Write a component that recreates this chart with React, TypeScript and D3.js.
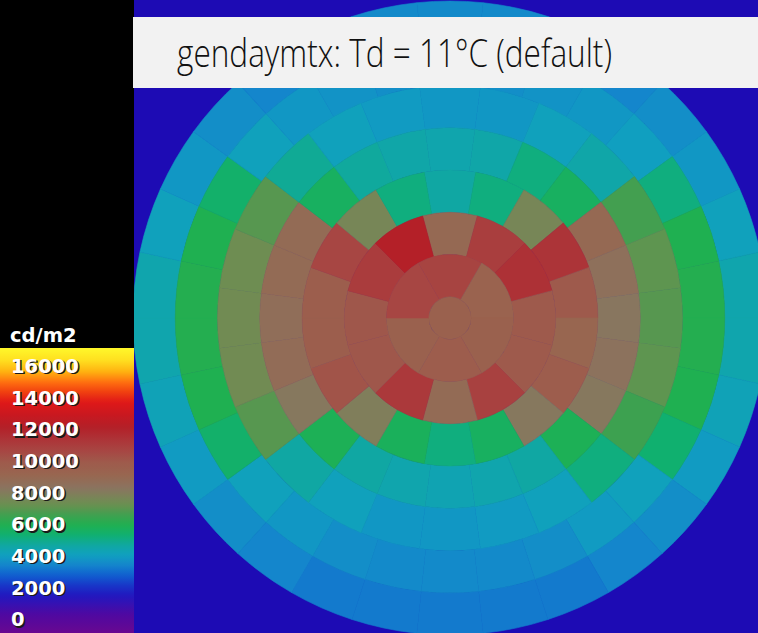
import React from "react";
import * as d3 from "d3";

const W = 758;
const H = 633;

// Sky dome (angular fisheye, looking up), centre and horizon radius in px
const CX = 450;
const CY = 318;
const R = 317;

// Tregenza subdivision: 12° altitude bands, patches centred on azimuth 0 (top)
const rowCounts = [30, 30, 24, 24, 18, 12, 6, 1];

// Luminance per patch (cd/m2), azimuth increasing clockwise from the top
const band0 = [4400, 4400, 4300, 4300, 4500, 4700, 5000, 5300, 5300, 5100, 4800, 4500, 4300, 4100, 4100,
  4100, 4100, 4100, 4300, 4500, 4800, 5100, 5300, 5300, 5000, 4700, 4500, 4300, 4300, 4400];
const band1 = [4500, 4500, 4600, 4700, 4900, 6000, 6800, 6900, 6900, 6800, 6200, 5000, 4800, 4500, 4400,
  4400, 4400, 4500, 4700, 5000, 6300, 6800, 6900, 6900, 6800, 6300, 5000, 4700, 4600, 4500];
const band2 = [4700, 4700, 5000, 5400, 7500, 7900, 7800, 7900, 7400, 6000, 5000, 4800,
  4700, 4700, 5000, 5500, 7800, 8300, 8300, 8200, 7800, 5700, 5000, 4800];
const band3 = [5300, 5400, 6000, 6500, 9800, 9400, 9100, 9300, 9000, 6700, 5500, 5300,
  5200, 5300, 5500, 6700, 9000, 9600, 9500, 9700, 9700, 6500, 5600, 5400];
const band4 = [5500, 6000, 8500, 12200, 10800, 10000, 10600, 9000, 6500,
  6000, 6600, 8800, 11000, 10500, 10500, 11500, 8500, 6000];
const band5 = [9800, 11800, 12300, 10800, 10800, 11700, 9700, 12000, 10900, 10900, 11900, 13000];
const band6 = [11600, 10200, 10300, 10600, 10300, 11500];
const zenithCap = [10300];

const bands = [band0, band1, band2, band3, band4, band5, band6, zenithCap];

// Colour legend
const legendTitle = "cd/m2";
const legendLabels = [16000, 14000, 12000, 10000, 8000, 6000, 4000, 2000, 0];
const legendMax = 18000;

// falsecolor palette stops
const paletteValues = [0, 1137, 1768, 2400, 3032, 3663, 4295, 4926, 5558, 6190, 6821, 7453, 8084, 8589,
  9158, 9979, 10800, 11432, 12189, 13010, 13768, 14589, 15221, 15853, 16484, 17242, 18000];
const paletteColors = ["#680890", "#5008a0", "#3810b0", "#2018c0", "#1838c8", "#1060d0", "#1486cc",
  "#10a0c0", "#10a8a0", "#10b070", "#20b050", "#40a050", "#6a9050", "#7a8458", "#8a7460", "#986650",
  "#9e5a4c", "#a64844", "#ac3438", "#b42028", "#c81820", "#e01818", "#f04010", "#ff7010", "#ffb010",
  "#ffe020", "#fff82a"];

const titleText = "gendaymtx: Td = 11°C (default)";

export default function App() {
  const color = d3
    .scaleLinear<string>()
    .domain(paletteValues)
    .range(paletteColors)
    .interpolate(d3.interpolateRgb)
    .clamp(true);

  // altitude (deg) -> radius on the fisheye image
  const rad = d3.scaleLinear().domain([90, 0]).range([0, R]);
  const arc = d3.arc<any>();

  const patches: { d: string; fill: string; key: string }[] = [];
  bands.forEach((vals, k) => {
    const n = rowCounts[k];
    const altLo = k * 12;
    const altHi = k === rowCounts.length - 1 ? 90 : altLo + 12;
    const step = (2 * Math.PI) / n;
    vals.forEach((v, j) => {
      const d =
        n === 1
          ? arc({ innerRadius: 0, outerRadius: rad(altLo), startAngle: 0, endAngle: 2 * Math.PI })
          : arc({
              innerRadius: rad(altHi),
              outerRadius: rad(altLo),
              startAngle: (j - 0.5) * step,
              endAngle: (j + 0.5) * step,
            });
      patches.push({ d: d as string, fill: color(v), key: `${k}-${j}` });
    });
  });

  // legend geometry
  const barTop = 348;
  const barBottom = H;
  const bandH = (barBottom - barTop) / legendLabels.length;
  const gradStops = d3.range(0, legendMax + 1, 250);

  return (
    <svg
      width={W}
      height={H}
      viewBox={`0 0 ${W} ${H}`}
      style={{ position: "absolute", left: 0, top: 0, display: "block" }}
    >
      <defs>
        <linearGradient id="legendGrad" x1="0" y1="1" x2="0" y2="0">
          {gradStops.map((v) => (
            <stop key={v} offset={v / legendMax} stopColor={color(v)} />
          ))}
        </linearGradient>
      </defs>

      <rect x={0} y={0} width={W} height={H} fill="#1d0bb4" />

      <g transform={`translate(${CX},${CY})`}>
        {patches.map((p) => (
          <path key={p.key} d={p.d} fill={p.fill} stroke={p.fill} strokeWidth={0.6} />
        ))}
      </g>

      {/* legend panel */}
      <rect x={0} y={0} width={134} height={barTop} fill="#000" />
      <rect x={0} y={barTop} width={134} height={barBottom - barTop} fill="url(#legendGrad)" />
      <g fontFamily="'DejaVu Sans', sans-serif" fontWeight="bold" fontSize={19.5}>
        <text x={10} y={342} fill="#fff">
          {legendTitle}
        </text>
        {legendLabels.map((v, i) => {
          const y = barTop + bandH * (i + 0.5) + 9;
          return (
            <g key={v}>
              <text x={12.5} y={y + 1.5} fill="#1a1a1a">
                {v}
              </text>
              <text x={11} y={y} fill="#fff">
                {v}
              </text>
            </g>
          );
        })}
      </g>

      {/* title */}
      <rect x={133} y={17} width={W - 133} height={71} fill="#f2f2f2" />
      <text
        x={177}
        y={67}
        fontFamily="'Open Sans', 'Lato', sans-serif"
        fontWeight={300}
        fontSize={38}
        fill="#111"
        textLength={435}
        lengthAdjust="spacingAndGlyphs"
      >
        {titleText}
      </text>
    </svg>
  );
}
